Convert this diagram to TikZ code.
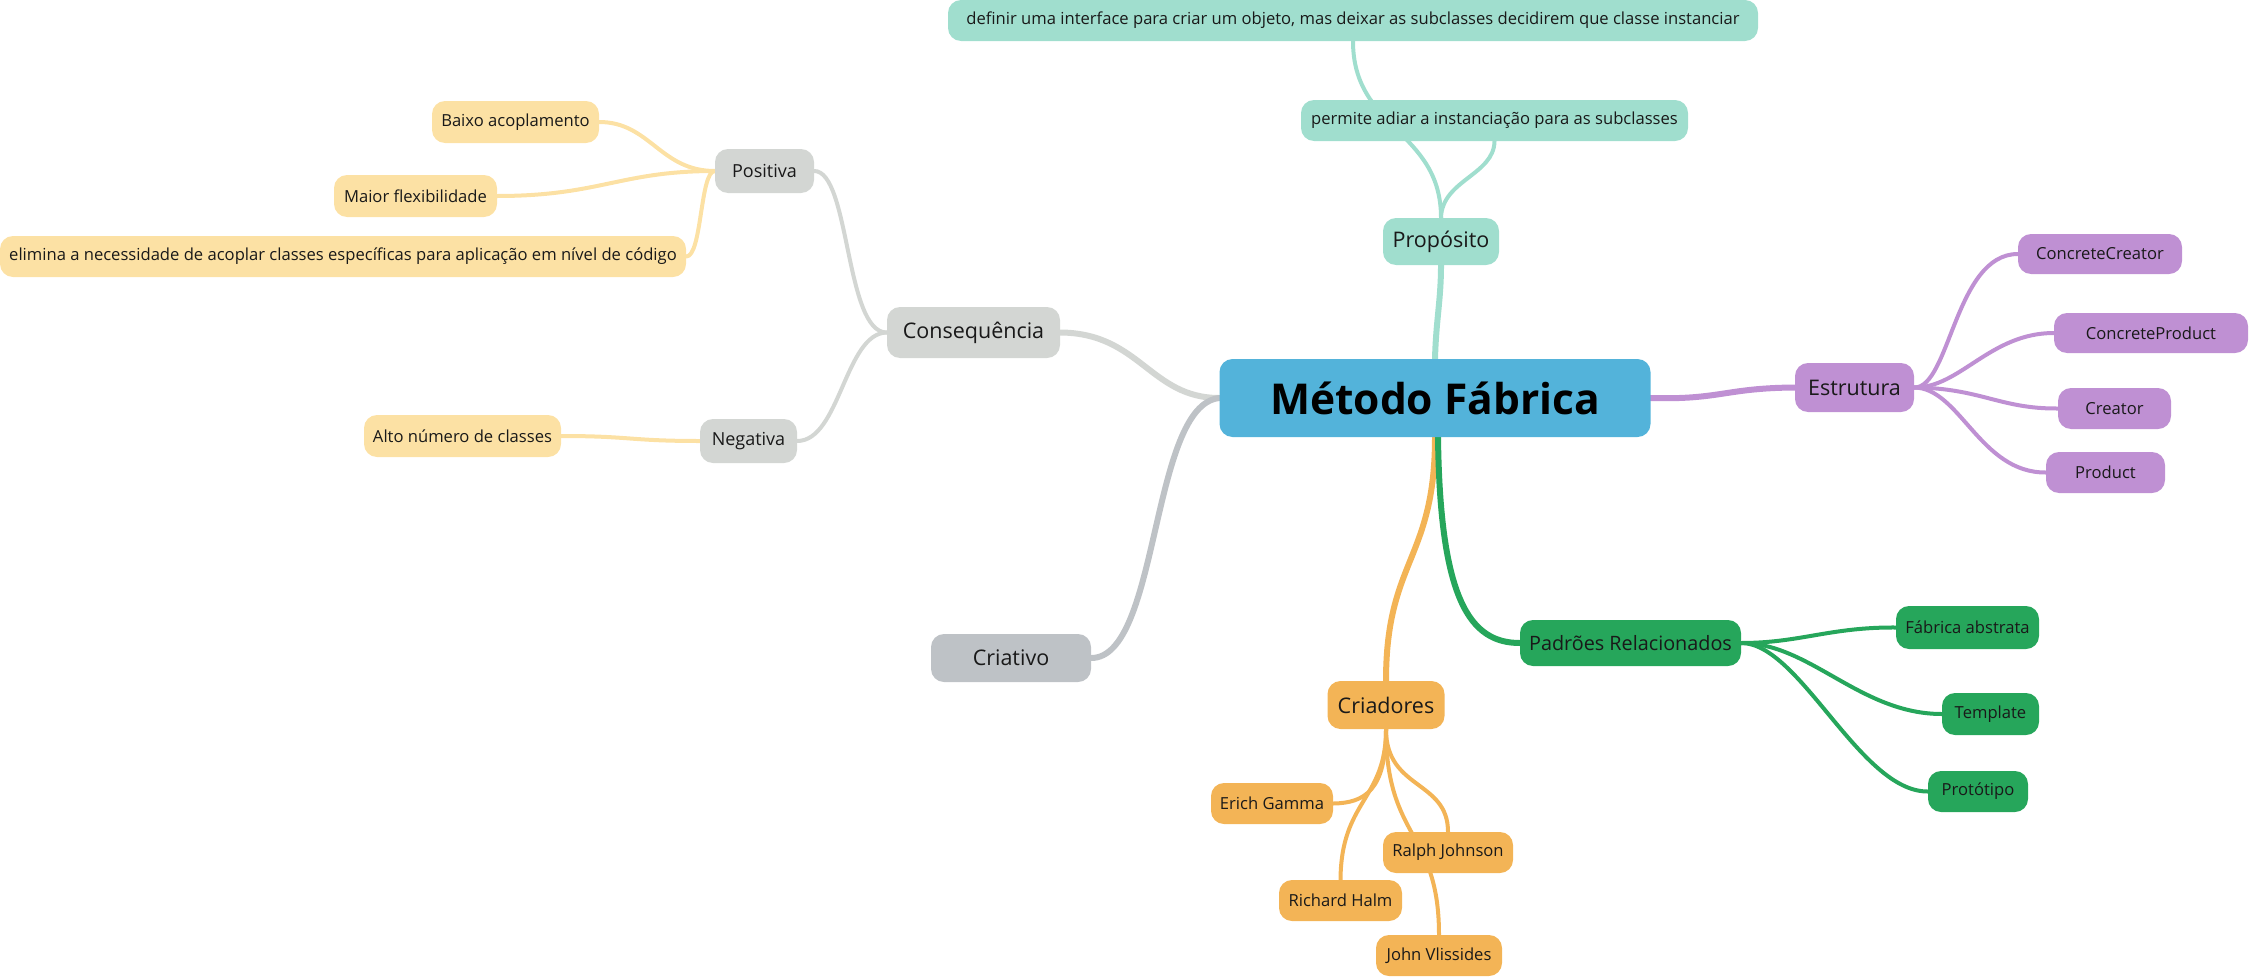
\documentclass[tikz,border=0pt]{standalone}
\usepackage{fontspec}
\setmainfont{Open Sans}
\definecolor{teal1}{HTML}{A0DECE}
\definecolor{blue1}{HTML}{53B3DA}
\definecolor{purp}{HTML}{BF90D3}
\definecolor{green1}{HTML}{26A65B}
\definecolor{orange1}{HTML}{F3B456}
\definecolor{yell}{HTML}{FCE1A4}
\definecolor{grayA}{HTML}{D3D6D3}
\definecolor{grayB}{HTML}{BEC2C6}
\pgfdeclarelayer{bg}
\pgfsetlayers{bg,main}
\tikzset{
  box/.style={rounded corners=13pt, inner sep=0pt, align=center, text=black!90, font=\fontsize{16.6}{19}\selectfont},
  big/.style={font=\fontsize{21.5}{25}\selectfont},
  sz/.style 2 args={minimum width=#1pt, minimum height=#2pt},
  conn/.style={line width=#1pt, line cap=round},
  conn/.default=4
}
\begin{document}
\begin{tikzpicture}[x=1pt,y=-1pt]
\useasboundingbox (0,0) rectangle (2249,977);
% root
\node[box, fill=blue1, sz={431}{78}, font=\fontsize{42.5}{50}\selectfont\bfseries, text=black] (root) at (1435,398) {Método Fábrica};
% Proposito
\node[box, big, fill=teal1, sz={116}{47}] (prop) at (1441,241.5) {Propósito};
\node[box, fill=teal1, sz={810}{41}] (def) at (1353,20.5) {definir uma interface para criar um objeto, mas deixar as subclasses decidirem que classe instanciar};
\node[box, fill=teal1, sz={387}{41}] (perm) at (1494.5,120.5) {permite adiar a instanciação para as subclasses};
% Estrutura
\node[box, big, fill=purp, sz={119}{49}] (estr) at (1854.5,387.5) {Estrutura};
\node[box, fill=purp, sz={164}{40}] (cc) at (2100,254) {ConcreteCreator};
\node[box, fill=purp, sz={194}{40}] (cp) at (2151,333) {ConcreteProduct};
\node[box, fill=purp, sz={113}{41}] (cre) at (2114.5,408.5) {Creator};
\node[box, fill=purp, sz={119}{41}] (prod) at (2105.5,472.5) {Product};
% Consequencia
\node[box, big, fill=grayA, sz={173}{51}] (cons) at (973.5,332.5) {Consequência};
\node[box, fill=grayA, sz={99}{44}, font=\fontsize{18}{21}\selectfont] (pos) at (764.5,171) {Positiva};
\node[box, fill=grayA, sz={97}{44}, font=\fontsize{18}{21}\selectfont] (neg) at (748.5,441) {Negativa};
\node[box, fill=yell, sz={167}{42}] (baixo) at (515.5,122) {Baixo acoplamento};
\node[box, fill=yell, sz={163}{42}] (maior) at (415.5,196) {Maior flexibilidade};
\node[box, fill=yell, sz={686}{41}] (elim) at (343,256.5) {elimina a necessidade de acoplar classes específicas para aplicação em nível de código};
\node[box, fill=yell, sz={197}{42}] (alto) at (462.5,436) {Alto número de classes};
% Criativo
\node[box, big, fill=grayB, sz={160}{48}] (criat) at (1011,658) {Criativo};
% Padroes
\node[box, fill=green1, sz={221}{46}, font=\fontsize{19.8}{24}\selectfont] (pad) at (1630.5,643) {Padrões Relacionados};
\node[box, fill=green1, sz={143}{43}] (fab) at (1967.5,627.5) {Fábrica abstrata};
\node[box, fill=green1, sz={97}{42}] (templ) at (1990.5,714) {Template};
\node[box, fill=green1, sz={100}{41}] (prot) at (1978,791.5) {Protótipo};
% Criadores
\node[box, big, fill=orange1, sz={117}{48}] (criad) at (1386,705) {Criadores};
\node[box, fill=orange1, sz={122}{41}] (erich) at (1272,803.5) {Erich Gamma};
\node[box, fill=orange1, sz={130}{41}] (ralph) at (1448,852.5) {Ralph Johnson};
\node[box, fill=orange1, sz={123}{41}] (rich) at (1340.5,900.5) {Richard Halm};
\node[box, fill=orange1, sz={126}{41}] (john) at (1439,955.5) {John Vlissides};

\begin{pgfonlayer}{bg}
% root branches
\draw[conn=6, teal1] (root.north) .. controls (1436,320) and (1441,300) .. (prop.south);
\draw[conn=6, purp] (root.east) .. controls (1720,400) and (1725,388) .. (estr.west);
\draw[conn=6, grayA] (root.west) .. controls (1150,398) and (1140,333) .. (cons.east);
\draw[conn=6, grayB] (root.west) .. controls (1150,405) and (1160,658) .. (criat.east);
\draw[conn=6, orange1] (root.south) .. controls (1435,560) and (1386,560) .. (criad.north);
\draw[conn=6, green1] ([xshift=3pt]root.south) .. controls (1440,600) and (1470,643) .. (pad.west);
% Proposito
\draw[conn, teal1] (prop.north) .. controls (1441,130) and (1353,130) .. (def.south);
\draw[conn, teal1] (prop.north) .. controls (1442,180) and (1494,175) .. (perm.south);
% Estrutura
\draw[conn, purp] (estr.east) .. controls (1950,388) and (1955,254) .. (cc.west);
\draw[conn, purp] (estr.east) .. controls (1960,388) and (1990,333) .. (cp.west);
\draw[conn, purp] (estr.east) .. controls (1980,388) and (2000,409) .. (cre.west);
\draw[conn, purp] (estr.east) .. controls (1960,388) and (1980,473) .. (prod.west);
% Consequencia
\draw[conn, grayA] (cons.west) .. controls (845,333) and (850,171) .. (pos.east);
\draw[conn, grayA] (cons.west) .. controls (845,333) and (840,441) .. (neg.east);
\draw[conn, yell] (pos.west) .. controls (660,171) and (650,122) .. (baixo.east);
\draw[conn, yell] (pos.west) .. controls (620,171) and (600,196) .. (maior.east);
\draw[conn, yell] (pos.west) .. controls (700,171) and (702,257) .. (elim.east);
\draw[conn, yell] (neg.west) .. controls (630,441) and (630,436) .. (alto.east);
% Padroes
\draw[conn, green1] (pad.east) .. controls (1800,643) and (1830,627) .. (fab.west);
\draw[conn, green1] (pad.east) .. controls (1810,643) and (1860,714) .. (templ.west);
\draw[conn, green1] (pad.east) .. controls (1800,643) and (1860,792) .. (prot.west);
% Criadores
\draw[conn, orange1] (criad.south) .. controls (1386,790) and (1365,803) .. (erich.east);
\draw[conn, orange1] (criad.south) .. controls (1386,800) and (1341,800) .. (rich.north);
\draw[conn, orange1] (criad.south) .. controls (1386,790) and (1448,780) .. (ralph.north);
\draw[conn, orange1] (criad.south) .. controls (1386,840) and (1439,830) .. (john.north);
\end{pgfonlayer}
\end{tikzpicture}
\end{document}
